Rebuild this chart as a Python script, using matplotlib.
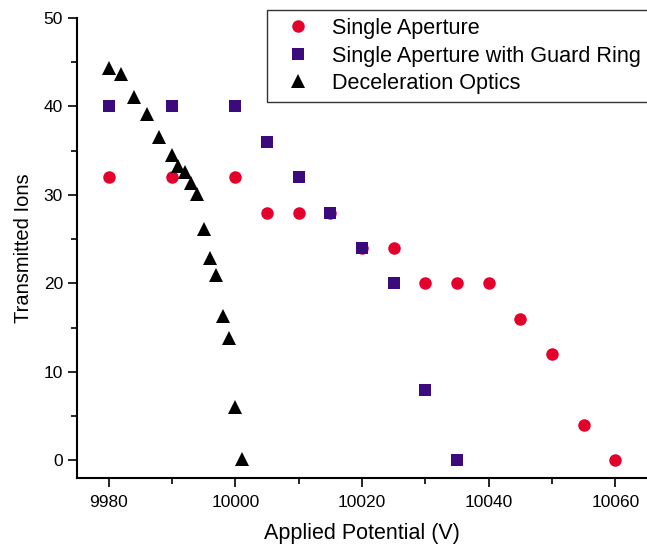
import matplotlib
matplotlib.use("Agg")
import matplotlib.pyplot as plt
from matplotlib.ticker import MultipleLocator

plt.rcParams['font.family'] = ['Liberation Sans', 'DejaVu Sans']

sa_x = [9980, 9990, 10000, 10005, 10010, 10015, 10020, 10025, 10030, 10035, 10040, 10045, 10050, 10055, 10060]
sa_y = [32, 32, 32, 28, 28, 28, 24, 24, 20, 20, 20, 16, 12, 4, 0]

gr_x = [9980, 9990, 10000, 10005, 10010, 10015, 10020, 10025, 10030, 10035]
gr_y = [40, 40, 40, 36, 32, 28, 24, 20, 8, 0]

do_x = [9980, 9982, 9984, 9986, 9988, 9990, 9991, 9992, 9993, 9994, 9995, 9996, 9997, 9998, 9999, 10000, 10001]
do_y = [44.3, 43.7, 41.1, 39.1, 36.6, 34.5, 33.3, 32.6, 31.4, 30.1, 26.1, 22.9, 20.9, 16.3, 13.8, 6.0, 0.1]

fig = plt.figure(figsize=(6.47, 5.45), dpi=100)
ax = fig.add_axes([0.119, 0.123, 0.881, 0.844])

ax.plot(sa_x, sa_y, 'o', color='#E3002B', markersize=9, markeredgewidth=0, label='Single Aperture')
ax.plot(gr_x, gr_y, 's', color='#3B0A7C', markersize=8, markeredgewidth=0, label='Single Aperture with Guard Ring')
ax.plot(do_x, do_y, '^', color='black', markersize=10, markeredgewidth=0, label='Deceleration Optics')

ax.set_xlim(9975, 10065)
ax.set_ylim(-2, 50)
ax.xaxis.set_major_locator(MultipleLocator(20))
ax.xaxis.set_minor_locator(MultipleLocator(10))
ax.yaxis.set_major_locator(MultipleLocator(10))
ax.yaxis.set_minor_locator(MultipleLocator(5))
ax.spines['top'].set_visible(False)
ax.spines['right'].set_visible(False)
ax.spines['left'].set_linewidth(1.5)
ax.spines['bottom'].set_linewidth(1.5)
ax.tick_params(which='major', direction='out', length=6.5, width=1.2, labelsize=12.5)
ax.tick_params(axis='x', which='major', pad=6)
ax.tick_params(which='minor', direction='out', length=4, width=1.2)

ax.set_xlabel('Applied Potential (V)', fontsize=15.5, labelpad=9)
ax.set_ylabel('Transmitted Ions', fontsize=14.5, labelpad=8)

leg = fig.legend(loc='upper right', bbox_to_anchor=(1.003, 0.982), fontsize=15.6,
                 frameon=True, fancybox=False, edgecolor='black', handletextpad=0.5,
                 borderpad=0.38, labelspacing=0.3, handlelength=2.1, borderaxespad=0)
leg.get_frame().set_linewidth(1.0)

fig.savefig('out.png', dpi=100)
